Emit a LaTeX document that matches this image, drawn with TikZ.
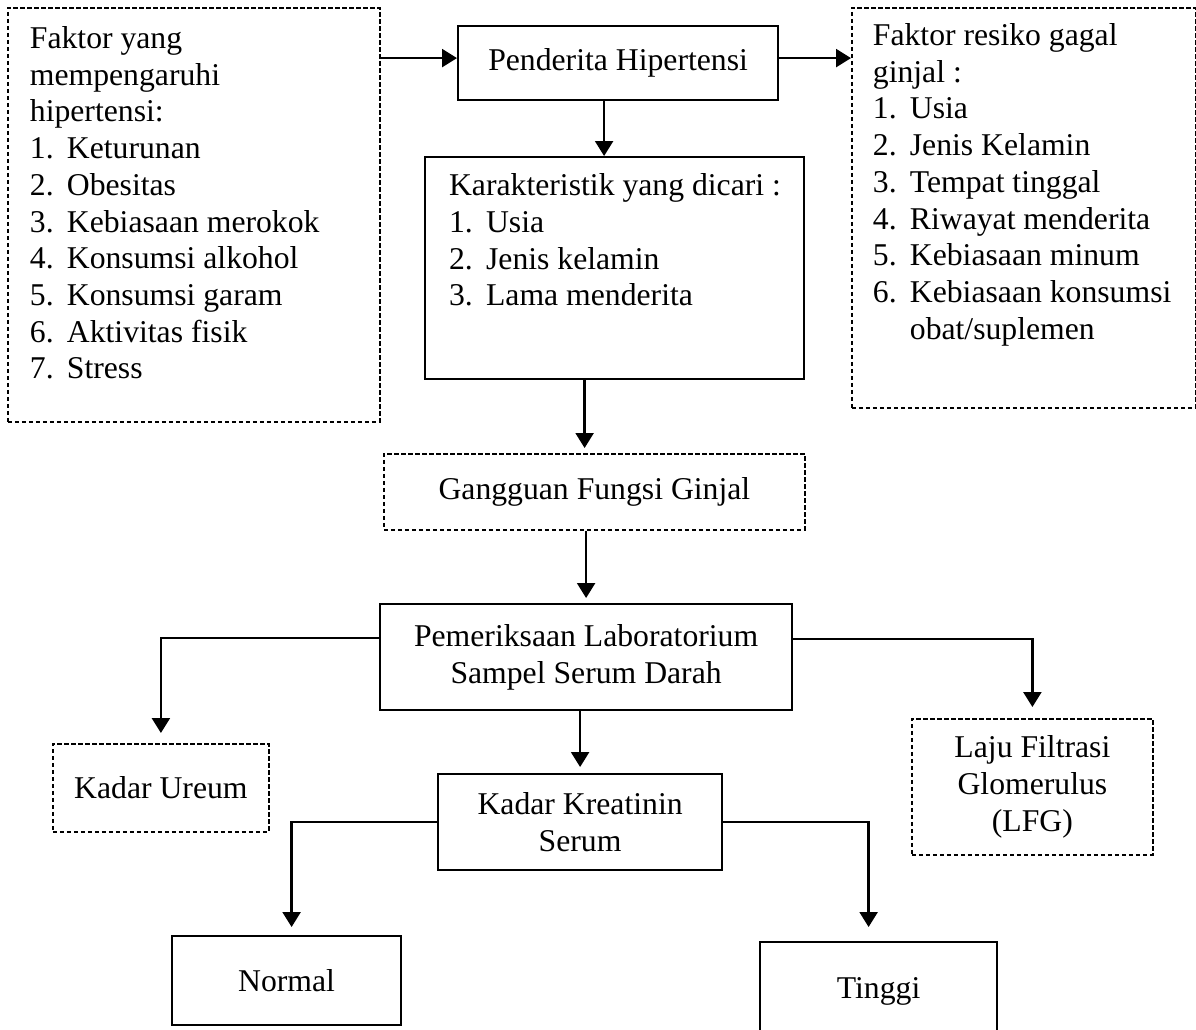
\documentclass[tikz,border=0pt]{standalone}
\usepackage{fontspec}
\setmainfont{Liberation Serif}
\usetikzlibrary{arrows.meta}

\tikzset{
  box/.style={draw, line width=2.2pt, anchor=north west, inner sep=0pt, align=center},
  dbox/.style={box, line width=1.8pt, dash pattern=on 4.5pt off 2.5pt},
  arr/.style={-{Triangle[length=15pt,width=18pt]}, line width=2.4pt},
}
\def\itemno#1{\makebox[37pt][l]{#1}}

\begin{document}
\begin{tikzpicture}[x=1pt, y=-1pt, font=\fontsize{31.7pt}{36.7pt}\selectfont]
            \useasboundingbox (0,0) rectangle (1196,1030);

            % factors of hypertension
            \node[dbox] (fak) at (7,7) {\parbox[c][414pt][t]{372pt}{\leftskip=22pt\vspace*{15pt}%
                \strut Faktor yang\\ mempengaruhi\\ hipertensi:\\
                \itemno{1.}Keturunan\\ \itemno{2.}Obesitas\\ \itemno{3.}Kebiasaan merokok\\
                \itemno{4.}Konsumsi alkohol\\ \itemno{5.}Konsumsi garam\\
                \itemno{6.}Aktivitas fisik\\ \itemno{7.}Stress}};

            % patients
            \node[box, minimum width=320pt, minimum height=74pt] (pend) at (457,25) {\raisebox{5pt}{Penderita Hipertensi}};

            % risk factors
            \node[dbox] (risk) at (851,7) {\parbox[c][400pt][t]{344pt}{\leftskip=21pt\vspace*{12pt}%
                \strut Faktor resiko gagal\\ ginjal :\\
                \itemno{1.}Usia\\ \itemno{2.}Jenis Kelamin\\ \itemno{3.}Tempat tinggal\\
                \itemno{4.}Riwayat menderita\\ \itemno{5.}Kebiasaan minum\\
                \itemno{6.}Kebiasaan konsumsi\\ \itemno{}obat/suplemen}};

            % characteristics
            \node[box] (kar) at (424,156) {\parbox[c][222pt][t]{379pt}{\leftskip=24pt\vspace*{13pt}%
                \strut Karakteristik yang dicari :\\
                \itemno{1.}Usia\\ \itemno{2.}Jenis kelamin\\ \itemno{3.}Lama menderita}};

            % kidney
            \node[dbox, minimum width=421pt, minimum height=76pt] (gang) at (383,453) {\raisebox{4pt}{Gangguan Fungsi Ginjal}};
            \node[box, minimum width=412pt, minimum height=106pt] (lab) at (379,603) {Pemeriksaan Laboratorium\\ Sampel Serum Darah};

            % results
            \node[dbox, minimum width=216pt, minimum height=88pt] (ureum) at (52,743) {Kadar Ureum};
            \node[box, minimum width=284pt, minimum height=96pt] (kre) at (437,773) {Kadar Kreatinin\\ Serum};
            \node[dbox, minimum width=241pt, minimum height=136pt] (lfg) at (911,718) {Laju Filtrasi\\ Glomerulus\\ (LFG)};
            \node[box, minimum width=229pt, minimum height=89pt] (normal) at (171,935) {Normal};
            \node[box, minimum width=237pt, minimum height=98pt] (tinggi) at (759,941) {Tinggi};

            % arrows top row
            \coordinate (pin) at ([yshift=5pt]pend.west);
            \coordinate (pout) at ([yshift=5pt]pend.east);
            \draw[arr] (fak.east |- pin) -- (pin);
            \draw[arr] (pout) -- (pout -| risk.west);
            \draw[arr] ([xshift=-14pt]pend.south) -- ([xshift=-14pt]pend.south |- kar.north);

            % arrows down the middle
            \draw[arr, shorten >=5pt] ([xshift=-30pt]kar.south) -- ([xshift=-30pt]kar.south |- gang.north);
            \draw[arr, shorten >=5pt] (gang.south -| lab.north) -- (lab.north);
            \draw[arr, shorten >=6pt] (lab.south -| kre.north) -- (kre.north);

            % branches
            \draw[arr, shorten >=10pt] ([yshift=19pt]lab.west) -| (ureum.north);
            \draw[arr, shorten >=11pt] ([yshift=18pt]lab.east) -| (lfg.north);
            \draw[arr, shorten >=8pt] (kre.west) -| ([xshift=5pt]normal.north);
            \draw[arr, shorten >=14pt] (kre.east) -| ([xshift=-10pt]tinggi.north);

\end{tikzpicture}
\end{document}
